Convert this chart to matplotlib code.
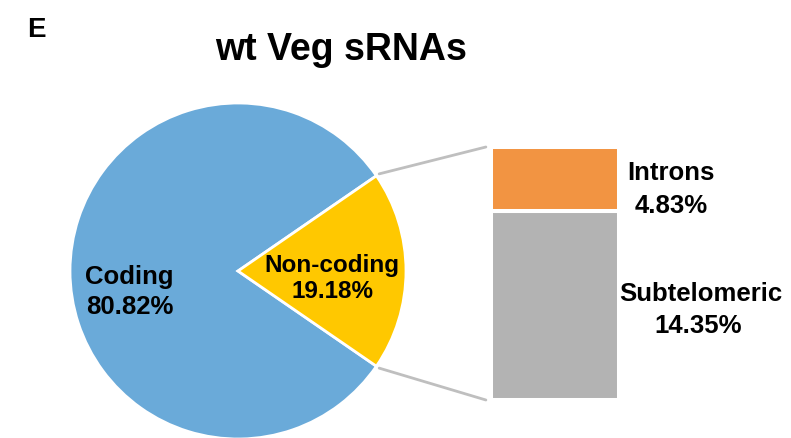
import numpy as np
import matplotlib.pyplot as plt
from matplotlib.patches import ConnectionPatch

plt.rcParams['font.family'] = ['Liberation Sans', 'DejaVu Sans']
plt.rcParams['font.weight'] = 'bold'

# data
pie_labels = ['Coding', 'Non-coding']
pie_values = [80.82, 19.18]
pie_colors = ['#6AAAD9', '#FFC800']

sub_labels = ['Subtelomeric', 'Introns']
sub_values = [14.35, 4.83]
sub_colors = ['#B3B3B3', '#F29442']

W, H = 791, 439
fig = plt.figure(figsize=(W / 100, H / 100), dpi=100)

# pie: centre (238, 272) px, radius 168 px
cx, cy, r = 238, 272, 168
ax1 = fig.add_axes([(cx - r) / W, (H - cy - r) / H, 2 * r / W, 2 * r / H])
half = pie_values[1] / sum(pie_values) * 360 / 2
wedges, _ = ax1.pie(pie_values, colors=pie_colors, startangle=half, radius=1,
                    wedgeprops=dict(edgecolor='white', linewidth=2))
ax1.set_xlim(-1, 1)
ax1.set_ylim(-1, 1)
ax1.axis('off')

ax1.text(-0.646, -0.12, f'{pie_labels[0]}\n{pie_values[0]:.2f}%', ha='center', va='center',
         fontsize=18.5, fontweight='bold', linespacing=1.3)
ax1.text(0.56, -0.04, f'{pie_labels[1]}\n{pie_values[1]:.2f}%', ha='center', va='center',
         fontsize=17.5, fontweight='bold', linespacing=1.18)

# stacked bar: x 493..617, y 150..399 px
bx0, bx1, by0, by1 = 491, 619, 148, 401
ax2 = fig.add_axes([bx0 / W, (H - by1) / H, (bx1 - bx0) / W, (by1 - by0) / H])
bottom = 0
for v, c in zip(sub_values, sub_colors):
    ax2.bar(0, v, width=1, bottom=bottom, color=c, edgecolor='white', linewidth=2.9)
    bottom += v
total = sum(sub_values)
ax2.set_xlim(-0.5, 0.5)
ax2.set_ylim(0, total)
ax2.axis('off')

# bar labels
fs = 18.5
fig.text(701 / W, 1 - 294 / H, sub_labels[0], ha='center', va='center', fontsize=fs, fontweight='bold')
fig.text(698 / W, 1 - 326 / H, f'{sub_values[0]:.2f}%', ha='center', va='center', fontsize=fs, fontweight='bold')
fig.text(671 / W, 1 - 173 / H, sub_labels[1], ha='center', va='center', fontsize=fs, fontweight='bold')
fig.text(671 / W, 1 - 206 / H, f'{sub_values[1]:.2f}%', ha='center', va='center', fontsize=fs, fontweight='bold')

# connectors
theta = np.deg2rad(half)
for sgn, ybar in [(1, total), (-1, 0)]:
    con = ConnectionPatch(xyA=(np.cos(theta) * 1.02, sgn * np.sin(theta) * 1.02), coordsA=ax1.transData,
                          xyB=(-0.54, ybar), coordsB=ax2.transData,
                          color='#BFBFBF', linewidth=2)
    fig.add_artist(con)

fig.text(341 / W, 1 - 50 / H, 'wt Veg sRNAs', ha='center', va='center', fontsize=27, fontweight='bold')
fig.text(27 / W, 1 - 30 / H, 'E', ha='left', va='center', fontsize=20, fontweight='bold')

fig.savefig('out.png', dpi=100)
